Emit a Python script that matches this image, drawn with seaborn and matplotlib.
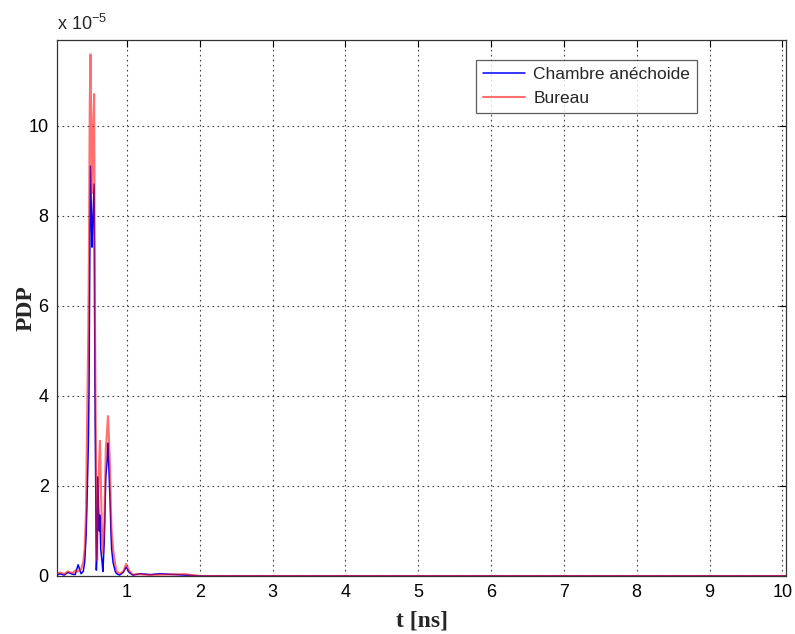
import numpy as np
import pandas as pd
import matplotlib
matplotlib.use("Agg")
import matplotlib.pyplot as plt
import seaborn as sns

# time samples [ns] (PDP values in units of 1e-5)
t_ns = [0.04, 0.08, 0.14, 0.19, 0.25, 0.29, 0.33, 0.37, 0.40, 0.42,
        0.44, 0.45, 0.47, 0.48, 0.49, 0.50, 0.52, 0.53, 0.55, 0.56,
        0.58, 0.59, 0.60, 0.62, 0.63, 0.64, 0.66, 0.67, 0.69, 0.70,
        0.71, 0.73, 0.74, 0.75, 0.77, 0.78, 0.79, 0.81, 0.84, 0.86,
        0.90, 0.95, 0.99, 1.03, 1.08, 1.18, 1.32, 1.45, 1.80, 2.00,
        10.05]

pdp_chambre = [0.02, 0.05, 0.02, 0.08, 0.04, 0.03, 0.25, 0.05, 0.10, 0.30,
               0.90, 1.50, 2.90, 4.20, 7.00, 9.10, 7.30, 7.80, 8.70, 4.40,
               0.13, 0.50, 2.20, 1.00, 1.35, 0.60, 0.30, 0.10, 0.80, 1.50,
               2.20, 2.60, 2.95, 2.50, 1.60, 1.00, 0.60, 0.30, 0.10, 0.05,
               0.02, 0.08, 0.20, 0.08, 0.02, 0.05, 0.03, 0.05, 0.02, 0.00,
               0.00]

pdp_bureau = [0.05, 0.08, 0.04, 0.10, 0.06, 0.12, 0.10, 0.15, 0.30, 0.60,
              1.50, 3.00, 5.50, 7.50, 10.50, 11.58, 8.50, 9.50, 10.70, 6.00,
              1.50, 0.35, 1.50, 2.60, 3.00, 2.20, 0.80, 0.50, 1.20, 2.00,
              2.80, 3.30, 3.55, 3.20, 2.30, 1.50, 1.00, 0.60, 0.25, 0.10,
              0.05, 0.10, 0.27, 0.12, 0.03, 0.04, 0.02, 0.03, 0.04, 0.00,
              0.00]

series_names = ["Chambre anéchoide", "Bureau"]
series_colors = ["#0000ff", "#ff1010"]

df = pd.concat([
    pd.DataFrame({"t": t_ns, "pdp": pdp_chambre, "milieu": series_names[0]}),
    pd.DataFrame({"t": t_ns, "pdp": pdp_bureau, "milieu": series_names[1]}),
])

sns.set_style("white")
plt.rcParams["font.family"] = ["Liberation Sans", "DejaVu Sans"]
plt.rcParams["mathtext.fontset"] = "custom"
plt.rcParams["mathtext.rm"] = "Liberation Sans"
plt.rcParams["mathtext.it"] = "Liberation Sans"

fig = plt.figure(figsize=(7.95, 6.34), dpi=100)
ax = fig.add_axes([0.0717, 0.0915, 0.917, 0.8455])

sns.lineplot(data=df[df.milieu == series_names[0]], x="t", y="pdp",
             color=series_colors[0], linewidth=1.1, sort=False,
             estimator=None, label=series_names[0], ax=ax)
sns.lineplot(data=df[df.milieu == series_names[1]], x="t", y="pdp",
             color=series_colors[1], alpha=0.6, linewidth=1.5, sort=False,
             estimator=None, label=series_names[1], ax=ax)
for ln in ax.get_lines():
    ln.set_zorder(3)

ax.set_xlim(0.04, 10.05)
ax.set_ylim(0, 11.9)
ax.set_xticks(range(1, 11))
ax.set_yticks(range(0, 12, 2))
ax.grid(True, color="#444444", linestyle=(0, (1.5, 3)), linewidth=0.8)
ax.tick_params(direction="in", length=5, top=True, right=True,
               labelsize=13, colors="black", width=0.8, pad=6)
for sp in ax.spines.values():
    sp.set_color("#333333")
    sp.set_linewidth(0.9)

ax.set_xlabel("t [ns]", family=["Liberation Serif"], fontweight="bold",
              fontsize=17)
ax.xaxis.set_label_coords(0.5, -0.065)
ax.set_ylabel("PDP", family=["Liberation Serif"], fontweight="bold",
              fontsize=17)
ax.yaxis.set_label_coords(-0.028, 0.5)
ax.text(0.0, 1.012, r"x 10$^{-5}$", transform=ax.transAxes, fontsize=13,
        ha="left", va="bottom")

leg = ax.legend(loc="upper right", bbox_to_anchor=(697 / 795, 1 - 60 / 634),
                bbox_transform=fig.transFigure, fontsize=12.5, frameon=True,
                fancybox=False, edgecolor="#333333", handlelength=2.4,
                borderpad=0.4, labelspacing=0.5, handletextpad=0.5,
                borderaxespad=0)
leg.get_frame().set_linewidth(0.9)

fig.savefig("out.png", dpi=100, facecolor="white")
